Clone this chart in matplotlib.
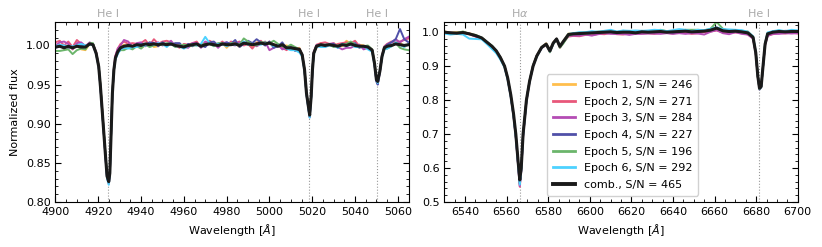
import numpy as np
import matplotlib
matplotlib.use('Agg')
import matplotlib.pyplot as plt
from matplotlib.ticker import MultipleLocator
import matplotlib.transforms as mtransforms

plt.rcParams['font.family'] = 'DejaVu Sans'
plt.rcParams['font.size'] = 8

# ---------------- left panel: He I lines ----------------
WAVE_L = ([4900, 4902, 4904, 4906, 4908, 4910, 4912, 4914, 4916, 4917.5, 4919] +
          [4920.2, 4921.0, 4921.8, 4922.6, 4923.4, 4924.1, 4924.9, 4925.4, 4926.0, 4926.6, 4927.3, 4928.0, 4929.1, 4930.4] +
          list(range(4932, 5015, 2)) +
          [5015.3, 5016.4, 5017.3, 5018.2, 5018.8, 5019.5, 5020.1, 5020.7, 5022] +
          list(range(5024, 5047, 2)) +
          [5048, 5049.1, 5050, 5050.6, 5051.6, 5052.6, 5053.7] +
          [5055, 5057, 5059, 5061, 5063, 5065])

COMB_L = ([0.998, 0.999, 0.997, 0.999, 0.997, 0.999, 0.998, 0.998, 1.002, 1.001, 0.990] +
          [0.973, 0.948, 0.918, 0.888, 0.858, 0.833, 0.826, 0.837, 0.888, 0.939, 0.969, 0.984, 0.992, 0.997] +
          [0.999, 1.000, 0.999, 1.001, 1.000, 1.002, 1.001, 1.002, 1.001, 1.002, 1.001, 1.002, 1.000, 0.999,
           0.998, 1.000, 1.001, 1.002, 0.999, 1.001, 1.002, 1.001, 1.000, 1.002, 1.001, 1.001, 1.002, 1.000,
           1.003, 1.002, 1.001, 1.002, 1.003, 1.002, 1.003, 1.001, 0.999, 1.001, 0.997, 0.997, 0.996, 0.995] +
          [0.988, 0.969, 0.939, 0.922, 0.911, 0.935, 0.969, 0.990, 0.999] +
          [1.001, 1.000, 1.001, 1.000, 0.999, 1.001, 1.000, 1.002, 1.000, 0.999, 0.999, 0.998] +
          [0.994, 0.977, 0.956, 0.954, 0.967, 0.986, 0.997] +
          [0.999, 1.000, 1.002, 1.001, 1.000, 1.001])

# epoch offsets from the combined spectrum, in units of 0.001
EP1_L = ([3, 2, -1, 1, -2, 2, -3, -4, 0, 1, 0] +
         [0, 1, 0, 0, 0, 0, 0, -1, 0, 1, 0, -1, 0, 1] +
         [2, -1, 0, 1, -3, -2, 3, -4, -2, 1, -1, 0, 2, 1, 3, -2, -1, 0, 1, 3, 2, -1, 0, 1, -4, 2, 1, -2, 0, -1, -3, 2, 0, 1, -1, 0, 2, -1, 3, 1, 0, 2] +
         [0, 0, -1, 0, 0, 1, 0, 0, 0] +
         [2, 0, -1, 3, 1, -2, 6, 0, -1, 2, 1, 0] +
         [0, 0, 1, 0, 0, 0, 1] +
         [2, -1, 0, 3, -2, 1])
EP2_L = ([6, 7, 3, 6, 1, 8, 4, 2, 0, 1, 2] +
         [0, -1, 1, 0, -1, -2, -2, 0, 1, 0, 2, 3, 4, 5] +
         [6, 2, 4, 1, 3, 5, -1, 6, 1, 3, 5, 2, 0, -2, 4, 1, 2, 3, -1, 0, 4, 2, 1, 3, -2, 4, 1, 5, -3, 0, -5, 1, 3, -2, 2, 0, 1, -4, -3, 2, -1, -2] +
         [0, -1, -1, -2, -2, 0, 1, 2, 2] +
         [2, 4, 1, -1, 3, 2, 4, 1, 6, 0, -2, 1] +
         [1, 0, -1, -1, 0, 1, 2] +
         [3, 5, 2, 4, 7, 8])
EP3_L = ([2, 5, 8, 3, -2, 4, 6, 1, 2, 0, -1] +
         [0, 0, -1, -1, -2, -1, -3, -2, 0, 0, 1, 2, 4, 3] +
         [8, 5, -1, 2, 4, -3, 2, 0, 3, -2, 1, 4, -1, 2, 0, -3, 2, 1, -2, 4, 0, 2, -3, 1, 3, 0, -2, 4, 1, -1, 2, -3, -1, 3, -9, -4, 2, -6, 0, -2, -1, 1] +
         [0, -1, 0, -1, -1, 0, -1, 0, 1] +
         [0, -2, 1, 3, -1, -6, -3, -5, 0, 2, -4, -1] +
         [0, -1, -2, -3, -1, 0, 0] +
         [2, 4, 6, 3, 8, 10])
EP4_L = ([-1, 0, 2, -2, 1, 0, 3, -1, 0, 1, 1] +
         [0, 0, -1, 0, 0, -1, -1, 0, 1, 0, -1, 0, 1, 0] +
         [-3, 1, -2, 0, 2, -1, 3, 1, -2, 2, 0, -1, 3, 4, -1, 2, -2, 0, 1, -3, 2, 4, 0, -1, 3, 1, 5, -2, -1, 4, 2, 6, 1, -2, 2, -4, 0, 3, -1, 1, -3, 0] +
         [0, -1, -1, -2, -3, -1, 0, 1, 1] +
         [-1, 1, 0, 2, -2, 1, 0, -1, 3, -2, 0, 1] +
         [0, -1, -2, -4, -1, 0, 1] +
         [2, 4, 6, 20, 8, 3])
EP5_L = ([-5, -6, -3, -4, -8, -5, -2, -3, 1, 2, 0] +
         [1, 2, 1, 1, 2, 1, 1, 0, 0, 1, 0, 0, -1, -3] +
         [-5, -3, -4, -2, -4, -1, -3, -2, 0, -1, 2, 0, -2, 1, 3, 0, -1, -2, 2, 1, 0, -2, 3, 1, -1, 2, 0, 1, 6, 3, 0, -2, 1, 2, 0, 5, 3, -2, 1, 4, 2, 0] +
         [0, 0, 1, 0, 1, 1, 0, -1, 0] +
         [-1, 1, 0, -2, 1, 0, 2, 3, 1, -1, 0, 2] +
         [1, 2, 1, 1, 0, 0, -1] +
         [-3, -1, 1, -4, -5, -7])
EP6_L = ([1, 2, 3, 0, 2, 1, 4, 2, -1, 0, -1] +
         [-1, -1, -2, -1, -2, -3, -4, -2, -1, 0, 0, -2, -3, -2] +
         [-2, -4, -1, -3, 0, -2, 1, -1, 2, 0, -3, 1, -1, 0, -2, -1, 1, -2, 3, 10, 1, -1, 2, 0, -2, 1, -1, 0, 2, -1, 1, 0, -2, 1, 0, -2, 1, 0, -1, -3, -2, -4] +
         [-2, -2, -2, -3, -3, -2, -1, -1, 0] +
         [-3, -2, -1, 0, -2, 1, -1, 0, -2, -1, 0, -3] +
         [-2, -2, -1, -2, 0, -1, -2] +
         [-3, -1, 2, 0, -2, 1])

# ---------------- right panel: H-alpha and He I 6678 ----------------
WAVE_R = ([6530, 6533, 6536, 6539, 6542, 6545, 6548] +
          [6551, 6553, 6555, 6557, 6559, 6560.5, 6562, 6563.3, 6564.4, 6565.5, 6566.3, 6567.0, 6567.9, 6569.5,
           6571, 6572.7, 6574.5, 6576.8, 6579, 6580.8, 6582.4, 6584, 6585.6, 6587.3, 6589.7] +
          list(range(6592, 6677, 3)) +
          [6678.5, 6679.8, 6680.8, 6681.6, 6682.4, 6683.3, 6684.3, 6685.5] +
          [6688, 6691, 6694, 6697, 6700])

COMB_R = ([1.000, 0.998, 0.997, 0.999, 0.995, 0.990, 0.983] +
          [0.968, 0.958, 0.945, 0.925, 0.900, 0.865, 0.815, 0.760, 0.700, 0.620, 0.565, 0.600, 0.700, 0.800,
           0.855, 0.900, 0.930, 0.955, 0.965, 0.945, 0.968, 0.980, 0.958, 0.973, 0.993] +
          [0.995, 0.996, 0.997, 0.998, 0.999, 1.000, 1.001, 0.999, 1.000, 1.000, 0.998, 1.001, 1.000, 1.001, 1.002,
           1.000, 1.001, 1.002, 1.003, 1.001, 1.002, 1.003, 1.006, 1.012, 1.004, 1.002, 1.003, 1.001, 0.998] +
          [0.985, 0.940, 0.870, 0.835, 0.840, 0.900, 0.965, 0.995] +
          [1.000, 1.002, 1.001, 1.002, 1.002])

EP1_R = ([2, 1, 3, 0, 2, 1, 0] +
         [0, 1, 0, 1, 0, 0, -2, -3, -5, -4, -5, -3, -2, 0, 1, 2, 0, 1, 2, 3, 2, 1, 2, 1, 3] +
         [1, 3, 2, 1, -1, 2, 1, 0, 3, 1, -2, 1, 0, 2, -1, 1, 3, 0, -1, 2, 1, 0, 1, -2, 0, 2, -1, 1, 2] +
         [0, -1, -2, -3, -2, -1, 0, 1] +
         [1, -1, 0, 1, -1])
EP2_R = ([1, -2, 0, 2, -1, -3, -2] +
         [-2, -3, -2, 0, -1, -3, -5, -8, -10, -12, -20, -10, -8, -4, -2, 0, 2, -1, -3, -4, -2, -3, -4, -2, -6] +
         [-6, -8, -5, -7, -4, -6, -3, -5, -7, -4, -2, -5, -3, -6, -4, -2, -5, -3, -4, -6, -5, -3, -4, -7, -5, -3, -4, -2, -5] +
         [-3, -2, -1, 0, 1, 0, -2, -5] +
         [-6, -4, -5, -3, -6])
EP3_R = ([0, 1, -1, 1, 0, -2, -1] +
         [-1, 0, -2, -1, 0, -2, -4, -6, -8, -10, -18, -8, -5, -2, 0, 1, 0, -2, -1, -2, -1, 0, -1, -3, -4] +
         [-5, -6, -4, -8, -5, -3, -6, -4, -5, -8, -3, -6, -4, -5, -7, -3, -6, -5, -8, -4, -6, -10, -5, -6, -7, -8, -3, -6, -5] +
         [-4, -3, -1, 0, 0, -1, -3, -6] +
         [-5, -7, -4, -6, -5])
EP4_R = ([-1, 0, 1, -2, 1, -1, 0] +
         [0, -1, 0, 1, -1, -2, -3, -4, -6, -8, -12, -6, -3, -1, 0, 1, 0, -1, 0, -1, 0, 1, 0, -1, -2] +
         [1, -2, 0, 2, -1, 3, 0, -2, 1, -1, 2, 0, 3, -1, 1, 2, -2, 0, 1, 3, -1, 2, 0, 1, 2, -1, 0, 1, -2] +
         [0, -1, -2, -4, -3, -1, 0, 1] +
         [2, 0, 3, 1, 2])
EP5_R = ([2, 0, 1, 3, 0, 2, 1] +
         [1, 2, 0, 1, 0, -1, -2, -3, -4, -5, -8, -4, -2, 0, 1, 2, 1, 0, -2, -4, -3, -2, -4, -6, -3] +
         [0, 2, -1, 1, 3, 2, 0, 1, 4, 2, -1, 3, 1, 2, 5, 3, 1, 2, 4, 6, 5, 2, 4, 18, 6, 2, 3, 1, 4] +
         [1, 0, -1, -2, -1, 0, 2, 3] +
         [1, 3, 0, 2, 1])
EP6_R = ([-4, -5, -2, -6, -14, -10, -4] +
         [-6, -8, -7, -6, -4, -5, -6, -7, -9, -10, -14, -9, -5, -3, -1, 0, -2, -1, 0, -2, -1, 0, 1, 0, 2] +
         [2, 4, 3, 5, 2, 4, 6, 3, 5, 4, 7, 3, 5, 6, 4, 3, 5, 7, 4, 2, 5, 3, 4, 2, 5, 6, 4, 5, 3] +
         [3, 2, 0, -1, -2, -1, 2, 4] +
         [3, 4, 2, 5, 3])

SN = [246, 271, 284, 227, 196, 292]
SN_COMB = 465
COLORS = ['#ffbe4d', '#e8577a', '#b44cb4', '#5050a8', '#6bb56b', '#4dd2ff']

LINES_L = [4924.6, 5018.4, 5050.4]
NAMES_L = ['He I', 'He I', 'He I']
LINES_R = [6566.4, 6681.4]
NAMES_R = [r'H$\alpha$', 'He I']

fig = plt.figure(figsize=(8.22, 2.47), dpi=100)
ax1 = fig.add_axes([0.0675, 0.182, 0.4295, 0.729])
ax2 = fig.add_axes([0.5405, 0.182, 0.4300, 0.729])


def draw(ax, wave, comb, epochs, lines, names):
    wave = np.array(wave, dtype=float)
    comb = np.array(comb)
    for x0 in lines:
        ax.axvline(x0, color='#999999', ls=':', lw=0.8, zorder=0)
    for i, off in enumerate(epochs):
        ax.plot(wave, comb + np.array(off) * 1e-3, color=COLORS[i], lw=1.4,
                label='Epoch %d, S/N = %d' % (i + 1, SN[i]))
    ax.plot(wave, comb, color='#1a1a1a', lw=2.2, label='comb., S/N = %d' % SN_COMB)
    trans = mtransforms.blended_transform_factory(ax.transData, ax.transAxes)
    for x0, name in zip(lines, names):
        ax.text(x0, 1.015, name, transform=trans, ha='center', va='bottom',
                color='#aaaaaa', fontsize=8)
    ax.tick_params(which='both', direction='in', top=True, right=True, labelsize=8)
    ax.tick_params(which='major', length=4, width=0.8)
    ax.tick_params(which='minor', length=2, width=0.6)
    ax.xaxis.set_major_locator(MultipleLocator(20))
    ax.xaxis.set_minor_locator(MultipleLocator(5))
    ax.set_xlabel(r'Wavelength [$\AA$]', fontsize=8)


draw(ax1, WAVE_L, COMB_L, [EP1_L, EP2_L, EP3_L, EP4_L, EP5_L, EP6_L], LINES_L, NAMES_L)
ax1.set_xlim(4900, 5065)
ax1.set_ylim(0.80, 1.03)
ax1.yaxis.set_major_locator(MultipleLocator(0.05))
ax1.yaxis.set_minor_locator(MultipleLocator(0.01))
ax1.yaxis.set_major_formatter(plt.FormatStrFormatter('%.2f'))
ax1.set_ylabel('Normalized flux', fontsize=8)

draw(ax2, WAVE_R, COMB_R, [EP1_R, EP2_R, EP3_R, EP4_R, EP5_R, EP6_R], LINES_R, NAMES_R)
ax2.set_xlim(6530, 6700)
ax2.set_ylim(0.5, 1.03)
ax2.yaxis.set_major_locator(MultipleLocator(0.1))
ax2.yaxis.set_minor_locator(MultipleLocator(0.02))
leg = ax2.legend(loc='lower left', bbox_to_anchor=(0.275, 0.005), fontsize=8,
                 handlelength=2.0, labelspacing=0.6, borderpad=0.5, framealpha=0.9)
for h in leg.get_lines():
    h.set_linewidth(2.0)
leg.get_lines()[-1].set_linewidth(2.8)

fig.savefig('out.png', dpi=100)
